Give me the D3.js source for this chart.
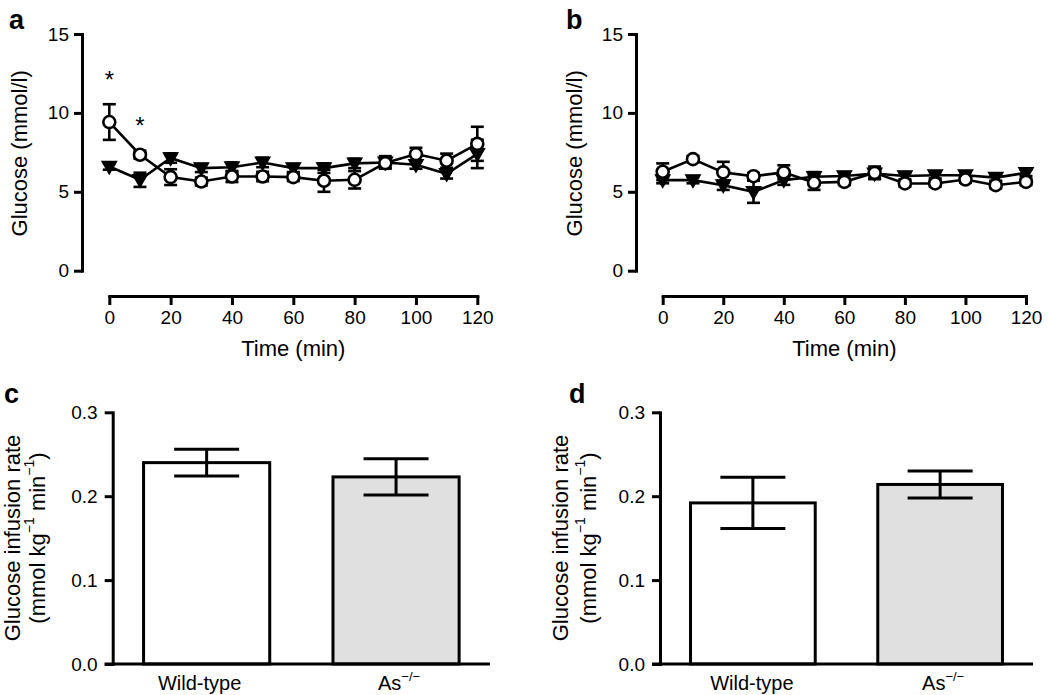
<!DOCTYPE html>
<html>
<head>
<meta charset="utf-8">
<script src="https://cdn.jsdelivr.net/npm/d3@7"></script>
<style>
  html, body { margin: 0; padding: 0; background: #fff; }
  svg { display: block; font-family: "Liberation Sans", Arial, Helvetica, sans-serif; }
</style>
</head>
<body>
<svg id="chart" width="1050" height="695"></svg>
<script>
// ---------- data ----------
const times = [0, 10, 20, 30, 40, 50, 60, 70, 80, 90, 100, 110, 120];
const timeTicks = [0, 20, 40, 60, 80, 100, 120];
const glucoseTicks = [0, 5, 10, 15];

// panel a
const wtA    = [9.42, 7.35, 5.93, 5.65, 5.97, 5.97, 5.93, 5.70, 5.76, 6.82, 7.39, 6.97, 8.04];
const wtASem = [1.13, 0.25, 0.50, 0.25, 0.35, 0.30, 0.25, 0.70, 0.55, 0.30, 0.40, 0.45, 1.08];
const koA    = [6.60, 5.76, 7.14, 6.50, 6.56, 6.86, 6.50, 6.50, 6.80, 6.86, 6.71, 6.14, 7.40];
const koASem = [0.20, 0.45, 0.30, 0.25, 0.30, 0.30, 0.25, 0.30, 0.30, 0.40, 0.25, 0.30, 0.90];
const starTimes = [0, 10];
const starValues = [12.2, 9.3];

// panel b
const wtB    = [6.27, 7.07, 6.23, 5.99, 6.23, 5.57, 5.63, 6.20, 5.53, 5.53, 5.78, 5.42, 5.63];
const wtBSem = [0.53, 0.20, 0.67, 0.20, 0.45, 0.45, 0.20, 0.40, 0.20, 0.20, 0.20, 0.20, 0.20];
const koB    = [5.74, 5.74, 5.42, 5.00, 5.74, 5.95, 6.00, 6.16, 6.00, 6.05, 6.05, 5.90, 6.20];
const koBSem = [0.20, 0.20, 0.30, 0.70, 0.30, 0.30, 0.20, 0.30, 0.20, 0.20, 0.20, 0.20, 0.20];

// panels c, d
const groups = ["Wild-type", "As"];
const rateTicks = [0, 0.1, 0.2, 0.3];
const rateC    = [0.240, 0.223];
const rateCSem = [0.016, 0.0217];
const rateD    = [0.192, 0.214];
const rateDSem = [0.0306, 0.016];
const barFills = ["#ffffff", "#e0e0e0"];

// ---------- drawing ----------
const svg = d3.select("#chart");
const AX = 3;          // axis stroke width
const TICKFONT = 19;
const TITLEFONT = 22;

function styleAxis(g) {
  g.select(".domain").attr("stroke", "#000").attr("stroke-width", AX).attr("stroke-linecap", "square");
  g.selectAll(".tick line").attr("stroke", "#000").attr("stroke-width", AX);
  g.selectAll(".tick text").attr("fill", "#000").attr("font-size", TICKFONT)
    .attr("font-family", "Liberation Sans, Arial, sans-serif");
}

function linePanel(opt) {
  const x = d3.scaleLinear().domain([0, 120]).range([opt.x0, opt.x1]);
  const y = d3.scaleLinear().domain([0, 15]).range([270.7, 34]);
  const g = svg.append("g");

  // y axis
  const gy = g.append("g").attr("transform", `translate(${opt.yAxisX},0)`)
    .call(d3.axisLeft(y).tickValues(glucoseTicks).tickSize(8).tickSizeOuter(0).tickPadding(5));
  styleAxis(gy);
  // x axis
  const gx = g.append("g").attr("transform", `translate(0,296)`)
    .call(d3.axisBottom(x).tickValues(timeTicks).tickSize(9).tickSizeOuter(0).tickPadding(6));
  styleAxis(gx);

  // titles
  g.append("text").attr("transform", `translate(${opt.yTitleX},${(y(15) + y(0)) / 2 + 1}) rotate(-90)`)
    .attr("text-anchor", "middle").attr("dominant-baseline", "middle")
    .attr("font-size", TITLEFONT).text("Glucose (mmol/l)");
  g.append("text").attr("x", (opt.x0 + opt.x1) / 2).attr("y", 356)
    .attr("text-anchor", "middle").attr("font-size", TITLEFONT).text("Time (min)");
  g.append("text").attr("x", opt.letterX).attr("y", 29)
    .attr("font-size", 27).attr("font-weight", "bold").text(opt.letter);

  const line = d3.line().x((d, i) => x(times[i])).y(d => y(d));
  const series = [
    { m: opt.ko, s: opt.koSem, type: "tri" },
    { m: opt.wt, s: opt.wtSem, type: "circ" }
  ];
  series.forEach(sr => {
    g.append("path").attr("d", line(sr.m)).attr("fill", "none")
      .attr("stroke", "#000").attr("stroke-width", 2.6);
  });
  // error bars
  series.forEach(sr => {
    const eb = g.append("g").attr("stroke", "#000").attr("stroke-width", 2.6);
    sr.m.forEach((v, i) => {
      const cx = x(times[i]);
      eb.append("line").attr("x1", cx).attr("x2", cx).attr("y1", y(v - sr.s[i])).attr("y2", y(v + sr.s[i]));
      [v - sr.s[i], v + sr.s[i]].forEach(e => {
        eb.append("line").attr("x1", cx - 6.5).attr("x2", cx + 6.5).attr("y1", y(e)).attr("y2", y(e));
      });
    });
  });
  // markers: triangles then circles
  const tri = d3.symbol().type(d3.symbolTriangle).size(95);
  g.append("g").selectAll("path").data(opt.ko).join("path")
    .attr("d", tri)
    .attr("transform", (d, i) => `translate(${x(times[i])},${y(d) - 1}) rotate(180)`)
    .attr("fill", "#000").attr("stroke", "#000").attr("stroke-width", 1.2);
  g.append("g").selectAll("circle").data(opt.wt).join("circle")
    .attr("cx", (d, i) => x(times[i])).attr("cy", d => y(d)).attr("r", 6)
    .attr("fill", "#fff").attr("stroke", "#000").attr("stroke-width", 2.6);

  if (opt.stars) {
    g.append("g").selectAll("text").data(starTimes).join("text")
      .attr("x", d => x(d)).attr("y", (d, i) => y(starValues[i]) + 10)
      .attr("text-anchor", "middle").attr("font-size", 24).text("*");
  }
}

function barPanel(opt) {
  const y = d3.scaleLinear().domain([0, 0.3]).range([664, 412.3]);
  const x = d3.scaleBand().domain(groups).range([opt.yAxisX, opt.xEnd])
    .paddingInner(0.334).paddingOuter(0.163);
  const g = svg.append("g");

  // bars
  g.append("g").selectAll("rect").data(opt.vals).join("rect")
    .attr("x", (d, i) => x(groups[i])).attr("width", x.bandwidth())
    .attr("y", d => y(d)).attr("height", d => y(0) - y(d))
    .attr("fill", (d, i) => barFills[i]).attr("stroke", "#000").attr("stroke-width", 3);

  // error bars
  const eb = g.append("g").attr("stroke", "#000").attr("stroke-width", 3);
  opt.vals.forEach((v, i) => {
    const cx = x(groups[i]) + x.bandwidth() / 2;
    eb.append("line").attr("x1", cx).attr("x2", cx).attr("y1", y(v - opt.sem[i])).attr("y2", y(v + opt.sem[i]));
    [v - opt.sem[i], v + opt.sem[i]].forEach(e => {
      eb.append("line").attr("x1", cx - 32.5).attr("x2", cx + 32.5).attr("y1", y(e)).attr("y2", y(e));
    });
  });

  // y axis
  const gy = g.append("g").attr("transform", `translate(${opt.yAxisX},0)`)
    .call(d3.axisLeft(y).tickValues(rateTicks).tickFormat(d3.format(".1f")).tickSize(8).tickSizeOuter(0).tickPadding(7));
  styleAxis(gy);
  // x baseline
  g.append("line").attr("x1", opt.yAxisX - 8).attr("x2", opt.xEnd)
    .attr("y1", y(0)).attr("y2", y(0)).attr("stroke", "#000").attr("stroke-width", AX);

  // category labels
  const lab = g.append("g").attr("font-size", 20).attr("text-anchor", "middle");
  lab.append("text").attr("x", x(groups[0]) + x.bandwidth() / 2 + opt.labShift).attr("y", 690).text("Wild-type");
  const t2 = lab.append("text").attr("x", x(groups[1]) + x.bandwidth() / 2 + 3).attr("y", 690);
  t2.append("tspan").text("As");
  t2.append("tspan").attr("font-size", 13).attr("dy", -9).text("\u2212/\u2212");

  // y title
  const cy = 538;
  g.append("text").attr("transform", `translate(${opt.title1X},${cy}) rotate(-90)`)
    .attr("text-anchor", "middle").attr("dominant-baseline", "middle").attr("font-size", TITLEFONT)
    .text("Glucose infusion rate");
  const tt = g.append("text").attr("transform", `translate(${opt.title2X},${cy}) rotate(-90)`)
    .attr("text-anchor", "middle").attr("dominant-baseline", "middle").attr("font-size", TITLEFONT);
  tt.append("tspan").text("(mmol kg");
  tt.append("tspan").attr("font-size", 14).attr("dy", -9).text("\u22121");
  tt.append("tspan").attr("dy", 9).text(" min");
  tt.append("tspan").attr("font-size", 14).attr("dy", -9).text("\u22121");
  tt.append("tspan").attr("dy", 9).text(")");

  g.append("text").attr("x", opt.letterX).attr("y", 403)
    .attr("font-size", 27).attr("font-weight", "bold").text(opt.letter);
}

linePanel({ letter: "a", letterX: 9, x0: 109.3, x1: 477.3, yAxisX: 82, yTitleX: 21,
  wt: wtA, wtSem: wtASem, ko: koA, koSem: koASem, stars: true });
linePanel({ letter: "b", letterX: 566, x0: 662.7, x1: 1026, yAxisX: 636, yTitleX: 576,
  wt: wtB, wtSem: wtBSem, ko: koB, koSem: koBSem, stars: false });
barPanel({ letter: "c", letterX: 4, yAxisX: 112.7, xEnd: 490, title1X: 14, title2X: 39,
  vals: rateC, sem: rateCSem, labShift: -7 });
barPanel({ letter: "d", letterX: 569, yAxisX: 660, xEnd: 1033, title1X: 562, title2X: 590,
  vals: rateD, sem: rateDSem, labShift: -1 });
</script>
</body>
</html>
